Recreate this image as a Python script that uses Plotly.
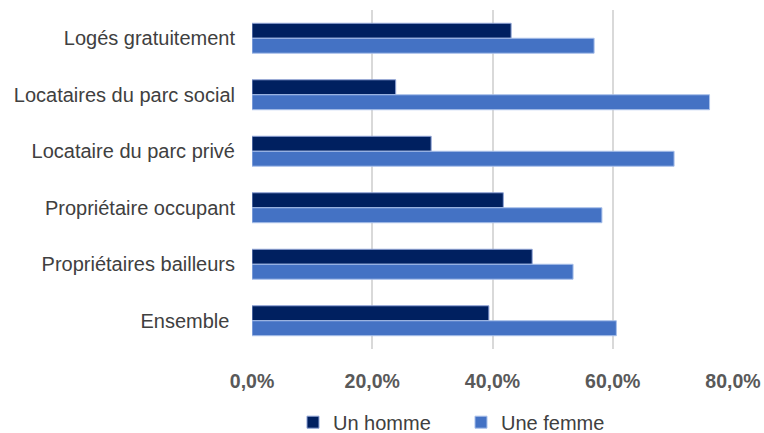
import plotly.graph_objects as go

# Statut d'occupation du logement : part des hommes et des femmes
categories = [
    "Logés gratuitement",
    "Locataires du parc social",
    "Locataire du parc privé",
    "Propriétaire occupant",
    "Propriétaires bailleurs",
    "Ensemble ",
]
homme = [43.1, 23.9, 29.8, 41.8, 46.6, 39.4]
femme = [56.9, 76.1, 70.2, 58.2, 53.4, 60.6]

tick_vals = [0, 20, 40, 60, 80]
tick_text = ["0,0%", "20,0%", "40,0%", "60,0%", "80,0%"]

fig = go.Figure()
fig.add_trace(go.Bar(
    y=categories, x=homme, orientation="h", name="Un homme",
    marker=dict(color="#002060", line=dict(color="#8FA3D6", width=1)),
))
fig.add_trace(go.Bar(
    y=categories, x=femme, orientation="h", name="Une femme",
    marker=dict(color="#4472C4", line=dict(color="#A9C0EA", width=1)),
))

fig.update_layout(
    width=764, height=433,
    margin=dict(l=252, r=31, t=10, b=84, autoexpand=False),
    paper_bgcolor="white", plot_bgcolor="white",
    barmode="group", bargap=0.47, bargroupgap=0,
    font=dict(family="Liberation Sans, Arial, sans-serif", color="#404040", size=20),
    legend=dict(
        orientation="h", x=0.3835, xref="container", xanchor="left",
        y=0.025, yref="container", yanchor="middle",
        font=dict(size=20, color="#404040"), itemwidth=30,
        entrywidth=123, entrywidthmode="pixels",
        tracegroupgap=0,
    ),
    xaxis=dict(
        range=[0, 80], tickvals=tick_vals, ticktext=tick_text,
        showgrid=True, gridcolor="#D9D9D9", gridwidth=1.5,
        zeroline=False, showline=False,
        tickfont=dict(size=19.5, color="#595959", family="Liberation Sans, Arial, sans-serif", weight="bold"),
        ticks="", ticklabelstandoff=18,
    ),
    yaxis=dict(
        autorange="reversed", showgrid=False, zeroline=False, showline=False,
        ticks="", ticklabelstandoff=16,
        tickfont=dict(size=20, color="#404040"),
    ),
)

fig.write_html("out.html")
